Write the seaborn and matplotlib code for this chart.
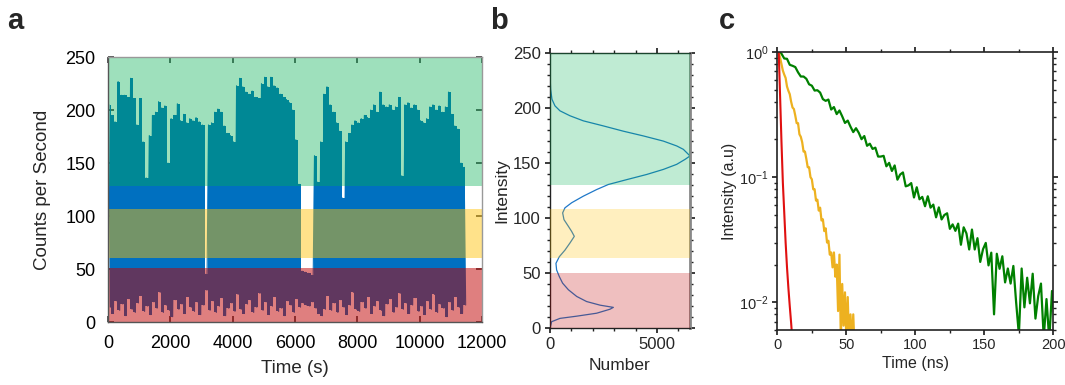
import numpy as np
import pandas as pd
import matplotlib
matplotlib.use("Agg")
import matplotlib.pyplot as plt
import seaborn as sns
from matplotlib.ticker import MultipleLocator, FixedLocator, LogLocator, NullFormatter

# ---------------- Panel a : intensity trace (per 100 s column: high / low envelope) -------------
trace_time = np.arange(0, 11500, 100)          # s
cps_high = [205, 195, 189, 227, 214, 214, 212, 230, 211, 186,
            211, 170, 136, 176, 195, 198, 208, 202, 204, 150,
            192, 195, 206, 190, 196, 188, 192, 190, 193, 189,
            186, 45, 186, 188, 198, 201, 198, 185, 178, 176,
            170, 223, 230, 222, 217, 215, 218, 212, 211, 225,
            231, 222, 231, 223, 221, 215, 212, 210, 207, 200,
            172, 130, 48, 47, 46, 44, 157, 132, 170, 215,
            222, 205, 198, 188, 180, 117, 170, 178, 186, 190,
            188, 192, 195, 193, 200, 205, 198, 217, 205, 203,
            205, 200, 203, 212, 138, 205, 207, 202, 205, 200,
            190, 188, 192, 203, 205, 200, 204, 198, 203, 217,
            196, 185, 182, 150, 146]
cps_low = [14, 8, 20, 11, 17, 6, 22, 12, 9, 18,
           25, 10, 15, 7, 19, 13, 28, 9, 16, 11,
           5, 21, 12, 17, 8, 24, 14, 10, 19, 7,
           16, 30, 11, 20, 9, 15, 23, 6, 13, 18,
           10, 26, 12, 8, 17, 21, 9, 14, 27, 11,
           19, 7, 15, 24, 10, 13, 6, 20, 16, 9,
           22, 14, 18, 16, 15, 19, 13, 8, 6, 12,
           25, 11, 18, 9, 21, 14, 7, 16, 28, 12,
           10, 19, 13, 24, 8, 15, 20, 11, 6, 17,
           22, 9, 14, 27, 12, 18, 8, 16, 23, 10,
           15, 7, 20, 12, 26, 9, 17, 13, 5, 19,
           11, 24, 14, 8, 16]
bands_a = [(0, 51), (60, 107), (128, 250)]       # red, yellow, green states
band_colors = ["#C00000", "#FFC000", "#00B050"]

# ---------------- Panel b : intensity histogram -------------
hist_intensity = [0, 6, 9, 11, 13.7, 17.3, 19, 21, 24.3, 28.9,
                  35, 41, 47, 53, 59, 65, 71, 77.5, 83.5, 88,
                  92.7, 98.7, 104.8, 109.4, 114, 120, 126, 130.6, 135, 139.7,
                  144.3, 148.9, 153.4, 156.5, 159.5, 162.5, 165.6, 170, 174.7, 179,
                  183.8, 188.4, 193, 197.5, 202, 208, 217, 232, 236]
hist_number = [0, 78, 467, 1246, 2180, 2800, 2960, 2340, 1710, 1250,
               860, 590, 436, 310, 280, 436, 700, 935, 1137, 1012,
               857, 654, 592, 700, 1012, 1558, 2180, 2726, 3583, 4517,
               5296, 5919, 6308, 6540, 6386, 6230, 5919, 5296, 4361, 3427,
               2492, 1558, 935, 467, 234, 93, 31, 0, 0]
bands_b = [(0, 50), (64, 108.5), (130, 250)]

# ---------------- Panel c : decay curves -------------
green_t = np.arange(1, 202, 2)
green_i = [1.00, 0.969, 0.888, 0.882, 0.790, 0.776, 0.758, 0.688, 0.637, 0.637,
           0.611, 0.552, 0.538, 0.492, 0.495, 0.474, 0.420, 0.407, 0.417, 0.347,
           0.363, 0.319, 0.341, 0.306, 0.271, 0.283, 0.253, 0.229, 0.246, 0.226,
           0.201, 0.213, 0.178, 0.185, 0.168, 0.172, 0.146, 0.146, 0.148, 0.122,
           0.130, 0.112, 0.124, 0.0954, 0.105, 0.109, 0.0844, 0.0859, 0.0896, 0.0687,
           0.0830, 0.0665, 0.0695, 0.0585, 0.0703, 0.0570, 0.0603, 0.0477, 0.0573, 0.0459,
           0.0498, 0.0514, 0.0386, 0.0419, 0.0372, 0.0425, 0.0288, 0.0397, 0.0355, 0.0264,
           0.0381, 0.0264, 0.0325, 0.0210, 0.0265, 0.0298, 0.0197, 0.0249, 0.0080, 0.0244,
           0.0185, 0.0233, 0.0144, 0.0186, 0.0141, 0.0195, 0.0100, 0.0055, 0.0186, 0.0091,
           0.0157, 0.0098, 0.0169, 0.0074, 0.0112, 0.0141, 0.0052, 0.0106, 0.0050, 0.0123,
           0.0070]
yellow_t = np.arange(1, 57)
yellow_i = [1.0, 0.90, 0.80, 0.71, 0.66, 0.62, 0.53, 0.49, 0.46, 0.40,
            0.36, 0.35, 0.31, 0.27, 0.27, 0.22, 0.21, 0.19, 0.16, 0.16,
            0.14, 0.12, 0.12, 0.10, 0.096, 0.080, 0.080, 0.065, 0.066, 0.054,
            0.057, 0.045, 0.046, 0.037, 0.039, 0.030, 0.031, 0.024, 0.025, 0.019,
            0.025, 0.016, 0.020, 0.0085, 0.024, 0.005, 0.014, 0.0065, 0.012, 0.005,
            0.011, 0.0045, 0.008, 0.0045, 0.008, 0.004]
red_t = np.arange(1, 12)
red_i = [1.0, 0.44, 0.19, 0.09, 0.052, 0.030, 0.019, 0.013, 0.0093, 0.0068, 0.0048]

# ---------------- style -------------
sns.set_theme(style="ticks")
plt.rcParams['font.family'] = ['Liberation Sans', 'DejaVu Sans']
plt.rcParams['mathtext.default'] = 'regular'
plt.rcParams['axes.unicode_minus'] = True

fig = plt.figure(figsize=(10.65, 3.85), dpi=100)
axa = fig.add_axes([0.1014, 0.1636, 0.3512, 0.688])
axb = fig.add_axes([0.5164, 0.1473, 0.1315, 0.715])
axc = fig.add_axes([0.7299, 0.1429, 0.2592, 0.722])

# ---- panel a ----
col_t = trace_time + 50
axa.fill_between(col_t, cps_low, cps_high, step="mid", color="#0070C0", lw=0, zorder=2)
tt, vv = [], []
for t, h, l in zip(col_t, cps_high, cps_low):
    tt += [t - 25, t + 25]
    vv += [h, l]
df_a = pd.DataFrame({"Time": tt, "Counts": vv})
sns.lineplot(data=df_a, x="Time", y="Counts", ax=axa, color="#0070C0",
             lw=0.8, estimator=None, sort=False, zorder=2)
for (lo, hi), col, al in zip(bands_a, band_colors, [0.5, 0.46, 0.38]):
    axa.axhspan(lo, hi, color=col, alpha=al, lw=0, zorder=3)
axa.set_xlim(0, 12000)
axa.set_ylim(0, 250)
axa.xaxis.set_major_locator(MultipleLocator(2000))
axa.yaxis.set_major_locator(MultipleLocator(50))
axa.tick_params(direction="in", length=4, top=True, right=True, labelsize=13,
                pad=9, color="#444444", labelcolor="black")
axa.set_xlabel("Time (s)", fontsize=13.5, labelpad=6)
axa.set_ylabel("Counts per Second", fontsize=13.5, labelpad=10)
for s in ["left", "bottom"]:
    axa.spines[s].set_color("#555555")
for s in ["top", "right"]:
    axa.spines[s].set_color("#999999")
for s in axa.spines.values():
    s.set_linewidth(1.0)
    s.set_zorder(4)

# ---- panel b ----
df_b = pd.DataFrame({"Number": hist_number, "Intensity": hist_intensity})
sns.lineplot(data=df_b, x="Number", y="Intensity", ax=axb, color="#1F78C8",
             lw=0.9, estimator=None, sort=False, zorder=2)
for (lo, hi), col in zip(bands_b, band_colors):
    axb.axhspan(lo, hi, color=col, alpha=0.25, lw=0, zorder=3)
axb.set_xlim(0, 6540)
axb.set_ylim(0, 250)
axb.xaxis.set_major_locator(FixedLocator([0, 5000]))
axb.xaxis.set_minor_locator(MultipleLocator(1000))
axb.yaxis.set_major_locator(MultipleLocator(50))
axb.yaxis.set_minor_locator(MultipleLocator(10))
axb.tick_params(which="both", direction="out", top=True, right=True, color="#222222")
axb.tick_params(which="major", length=3.5, labelsize=12, pad=3)
axb.tick_params(which="minor", length=2.5)
axb.set_xlabel("Number", fontsize=12.5, labelpad=4)
axb.set_ylabel("Intensity", fontsize=12.5, labelpad=3)
for s in ["left", "bottom", "top"]:
    axb.spines[s].set_color("#222222")
    axb.spines[s].set_linewidth(1.0)
axb.spines["right"].set_color("#888888")
axb.spines["right"].set_linewidth(2.0)

# ---- panel c ----
sns.lineplot(x=green_t, y=green_i, ax=axc, color="#008000", lw=1.6, estimator=None, sort=False)
sns.lineplot(x=yellow_t, y=yellow_i, ax=axc, color="#EDB120", lw=1.6, estimator=None, sort=False)
sns.lineplot(x=red_t, y=red_i, ax=axc, color="#E01010", lw=1.5, estimator=None, sort=False)
axc.set_yscale("log")
axc.set_xlim(0, 200)
axc.set_ylim(0.006, 1.0)
axc.xaxis.set_major_locator(MultipleLocator(50))
axc.xaxis.set_minor_locator(MultipleLocator(25))
axc.yaxis.set_major_locator(LogLocator(base=10))
axc.yaxis.set_minor_locator(LogLocator(base=10, subs=np.arange(2, 10)))
axc.yaxis.set_minor_formatter(NullFormatter())
axc.tick_params(which="both", direction="out", top=True, right=True, color="#222222")
axc.tick_params(which="major", length=3.5, labelsize=10.5, pad=2.5)
axc.tick_params(which="minor", length=2.5)
axc.set_xlabel("Time (ns)", fontsize=11.5, labelpad=3)
axc.set_ylabel("Intensity (a.u)", fontsize=11.5, labelpad=2)
for s in axc.spines.values():
    s.set_color("#222222")
    s.set_linewidth(1.2)

# ---- panel letters ----
fig.text(0.007, 0.925, "a", fontsize=21, fontweight="bold")
fig.text(0.460, 0.925, "b", fontsize=21, fontweight="bold")
fig.text(0.675, 0.925, "c", fontsize=21, fontweight="bold")

fig.savefig("out.png", dpi=100)
